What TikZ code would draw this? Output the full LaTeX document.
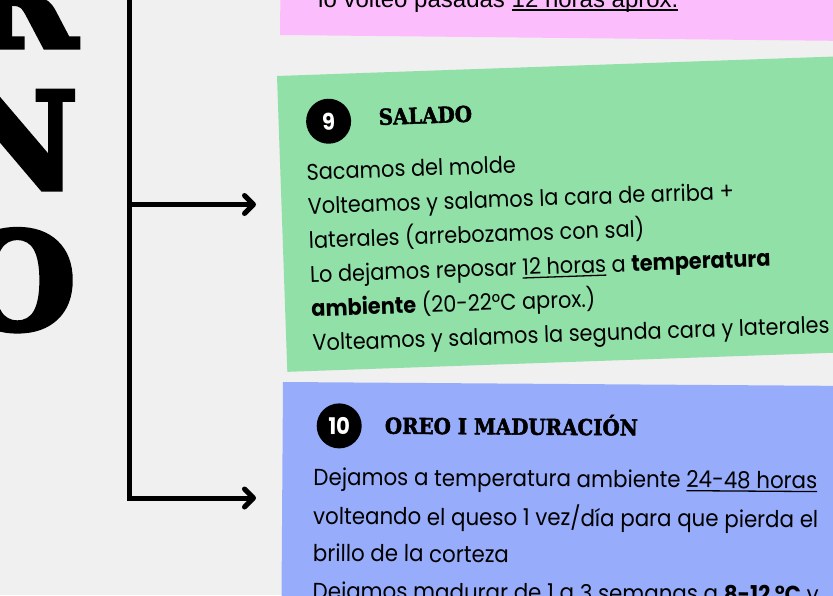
\documentclass[tikz,border=0pt]{standalone}
\usepackage{fontspec}
\setmainfont{Poppins}[FakeStretch=0.92]
\newfontfamily\headfont{DejaVu Serif}[FakeStretch=0.9,FakeBold=2]
\newfontfamily\letterfont{DejaVu Serif}[FakeBold=4]
\newfontfamily\arialfont{Liberation Sans}
\usetikzlibrary{arrows.meta}
\usetikzlibrary{positioning}

\newcommand{\uln}[1]{\setbox0\hbox{#1}\rlap{\rule[-3.5pt]{\wd0}{1.3pt}}\box0\relax}

\definecolor{paper}{HTML}{F0F0F0}
\definecolor{pinknote}{HTML}{FBBDFB}
\definecolor{greennote}{HTML}{90E0A8}
\definecolor{bluenote}{HTML}{97ADFB}

\tikzset{
  bigletter/.style={anchor=base east,inner sep=0pt,font=\letterfont\bfseries\fontsize{134}{134}\selectfont},
  stepnum/.style={shape=circle,fill=black,text=white,minimum size=45pt,inner sep=0pt,font=\bfseries\fontsize{23}{23}\selectfont},
  steptitle/.style={anchor=base west,inner sep=0pt,font=\headfont\bfseries\fontsize{22}{22}\selectfont},
  greenline/.style={anchor=base west,inner sep=0pt,font=\fontsize{22.7}{22.7}\selectfont},
  blueline/.style={anchor=base west,inner sep=0pt,font=\fontsize{23.2}{23.2}\selectfont},
  branch/.style={line width=5pt,-{Straight Barb[length=9pt,width=18pt,round]}},
}

\begin{document}
\begin{tikzpicture}[x=1pt,y=-1pt]

    \useasboundingbox (0,0) rectangle (833,595);
    \clip (0,0) rectangle (833,595);
    \fill[paper] (0,0) rectangle (833,595);

    % big letters on the left
    \node[bigletter] (R) at (77,47) {R};
    \node[bigletter] (N) at (78,189) {N};
    \node[bigletter] (O) at (76,329) {O};

    % pink note (step 8, cut at the top)
    \fill[pinknote,rotate around={-0.6:(280,35)}] (280,-60) -- (900,-60) -- (900,35) -- (280,35) -- cycle;
    \node[anchor=base west,inner sep=0pt,font=\arialfont\fontsize{24}{24}\selectfont] (volteo) at (318,7) {lo volteo pasadas \uln{12 horas aprox.}};

    % green note
    \begin{scope}[rotate around={2:(277,76)},transform shape]
        \fill[greennote] (277,76) -- (900,76) -- (900,372) -- (277,372) -- cycle;
        \node[stepnum] (n9) at (327,123) {9};
        \node[steptitle] (salado) at (377,128.5) {SALADO};
        \node[greenline] (s1) at (303,181) {Sacamos del molde};
        \node[greenline] (s2) at (303,215.2) {Volteamos y salamos la cara de arriba +};
        \node[greenline] (s3) at (303,249.4) {laterales (arrebozamos con sal)};
        \node[greenline] (s4) at (303,283.6) {Lo dejamos reposar \uln{12 horas} a \textbf{temperatura}};
        \node[greenline] (s5) at (303,317.8) {\textbf{ambiente} (20-22°C aprox.)};
        \node[greenline] (s6) at (303,352) {Volteamos y salamos la segunda cara y laterales};
    \end{scope}

    % blue note
    \begin{scope}[rotate around={-0.4:(283,382)},transform shape]
        \fill[bluenote] (283,382) -- (900,382) -- (900,700) -- (283,700) -- cycle;
        \node[stepnum] (n10) at (339.5,425.5) {10};
        \node[steptitle] (oreo) at (385,433) {OREO I MADURACIÓN};
        \node[blueline] (m1) at (314,485) {Dejamos a temperatura ambiente \uln{24-48 horas}};
        \node[blueline] (m2) at (314,524) {volteando el queso 1 vez/día para que pierda el};
        \node[blueline] (m3) at (314,561) {brillo de la corteza};
        \node[blueline] (m4) at (314,599) {Dejamos madurar de 1 a 3 semanas a \textbf{8-12 °C} y};
    \end{scope}

    % branches
    \coordinate (trunk) at (129,-10);
    \coordinate (fork) at (129,204.5);
    \coordinate (knee) at (129,498);
    \coordinate (toSalado) at (256,204.5);
    \coordinate (toOreo) at (256,498);

    \draw[branch] (trunk) -- (knee) -- (toOreo);
    \draw[branch] (fork) -- (toSalado);
\end{tikzpicture}
\end{document}
